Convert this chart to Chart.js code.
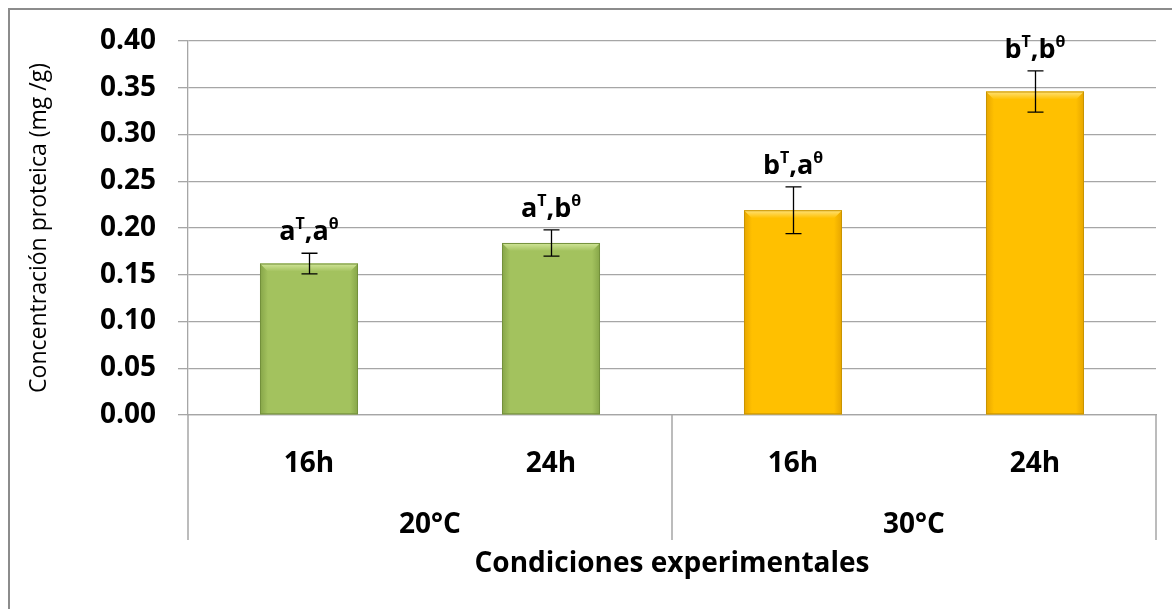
<!DOCTYPE html>
<html>
<head>
<meta charset="utf-8">
<script src="https://cdn.jsdelivr.net/npm/chart.js@4.4.0/dist/chart.umd.min.js"></script>
<style>
  html, body { margin: 0; padding: 0; background: #fff; overflow: hidden; }
  #wrap { position: relative; width: 1172px; height: 609px; }
  #frame { position: absolute; left: 8px; top: 8px; width: 1300px; height: 800px;
           border: 2px solid #8c8c8c; pointer-events: none; }
</style>
</head>
<body>
<div id="wrap">
  <canvas id="chart" width="1172" height="609"></canvas>
  <div id="frame"></div>
</div>
<script>
// data
const hours = ['16h', '24h', '16h', '24h'];
const temps = ['20°C', '30°C'];
const protein = [0.162, 0.184, 0.219, 0.346];
const proteinErr = [0.011, 0.014, 0.025, 0.022];
const letterT = ['a', 'a', 'b', 'b'];
const letterTheta = ['a', 'b', 'a', 'b'];

const FONT = "'Open Sans', sans-serif";
const green = { main: '#A3C25E', light: '#D2E69A', side: '#86A548', edge: '#73903C' };
const gold = { main: '#FFC000', light: '#FFE27A', side: '#E6A500', edge: '#C99400' };
const barStyle = i => (i < 2 ? green : gold);

// Excel-like bevel on each bar
const bevel = {
  id: 'bevel',
  afterDatasetsDraw(chart) {
    const ctx = chart.ctx;
    chart.getDatasetMeta(0).data.forEach((bar, i) => {
      const p = bar.getProps(['x', 'y', 'base', 'width'], true);
      const s = barStyle(i);
      const l = p.x - p.width / 2, r = p.x + p.width / 2, t = p.y, b = p.base, d = 8;
      ctx.save();
      let g = ctx.createLinearGradient(l, 0, l + d, 0);
      g.addColorStop(0, s.side); g.addColorStop(1, s.main);
      ctx.fillStyle = g;
      ctx.beginPath();
      ctx.moveTo(l, t); ctx.lineTo(l + d, t + d); ctx.lineTo(l + d, b); ctx.lineTo(l, b);
      ctx.closePath(); ctx.fill();
      g = ctx.createLinearGradient(r, 0, r - d, 0);
      g.addColorStop(0, s.side); g.addColorStop(1, s.main);
      ctx.fillStyle = g;
      ctx.beginPath();
      ctx.moveTo(r, t); ctx.lineTo(r - d, t + d); ctx.lineTo(r - d, b); ctx.lineTo(r, b);
      ctx.closePath(); ctx.fill();
      g = ctx.createLinearGradient(0, t, 0, t + d);
      g.addColorStop(0, s.light); g.addColorStop(1, s.main);
      ctx.fillStyle = g;
      ctx.beginPath();
      ctx.moveTo(l, t); ctx.lineTo(r, t); ctx.lineTo(r - d, t + d); ctx.lineTo(l + d, t + d);
      ctx.closePath(); ctx.fill();
      ctx.strokeStyle = s.edge;
      ctx.lineWidth = 1;
      ctx.strokeRect(l + 0.5, t + 0.5, r - l - 1, b - t - 1);
      ctx.restore();
    });
  }
};

// error bars + significance letters
const errorBars = {
  id: 'errorBars',
  afterDatasetsDraw(chart) {
    const ctx = chart.ctx, y = chart.scales.y;
    chart.getDatasetMeta(0).data.forEach((bar, i) => {
      const x = Math.round(bar.x) + 0.5;
      const hi = y.getPixelForValue(protein[i] + proteinErr[i]);
      const lo = y.getPixelForValue(protein[i] - proteinErr[i]);
      ctx.save();
      ctx.strokeStyle = '#000';
      ctx.lineWidth = 1.3;
      ctx.beginPath();
      ctx.moveTo(x, hi); ctx.lineTo(x, lo);
      ctx.moveTo(x - 8, hi); ctx.lineTo(x + 8, hi);
      ctx.moveTo(x - 8, lo); ctx.lineTo(x + 8, lo);
      ctx.stroke();

      // label like a^T,b^θ
      const parts = [
        [letterT[i], false], ['T', true], [',', false], [letterTheta[i], false], ['θ', true]
      ];
      const big = 'bold 27px ' + FONT, small = 'bold 16px ' + FONT;
      let w = 0;
      parts.forEach(([txt, sup]) => { ctx.font = sup ? small : big; w += ctx.measureText(txt).width; });
      let cx = bar.x - w / 2;
      const base = hi - 13;
      ctx.fillStyle = '#000';
      ctx.textBaseline = 'alphabetic';
      ctx.textAlign = 'left';
      parts.forEach(([txt, sup]) => {
        ctx.font = sup ? small : big;
        ctx.fillText(txt, cx, sup ? base - 11 : base);
        cx += ctx.measureText(txt).width;
      });
      ctx.restore();
    });
  }
};

// separators of the two temperature groups below the axis
const groupLines = {
  id: 'groupLines',
  afterDraw(chart) {
    const ctx = chart.ctx, x = chart.scales.x, x2 = chart.scales.x2;
    const mid = (x.getPixelForValue(1) + x.getPixelForValue(2)) / 2;
    const top = chart.chartArea.bottom, bottom = x2.top + 45;
    ctx.save();
    ctx.strokeStyle = '#A6A6A6';
    ctx.lineWidth = 1.5;
    ctx.beginPath();
    [x.left, mid, x.right].forEach(px => {
      ctx.moveTo(Math.round(px), top); ctx.lineTo(Math.round(px), bottom);
    });
    ctx.stroke();
    ctx.restore();
  }
};

new Chart(document.getElementById('chart').getContext('2d'), {
  type: 'bar',
  data: {
    labels: hours,
    datasets: [{
      data: protein,
      backgroundColor: protein.map((v, i) => barStyle(i).main),
      borderWidth: 0,
      categoryPercentage: 1,
      barPercentage: 0.405
    }]
  },
  options: {
    responsive: false,
    animation: false,
    devicePixelRatio: 1,
    layout: { padding: { left: 0, right: 16, top: 41, bottom: 0 } },
    plugins: { legend: { display: false }, tooltip: { enabled: false } },
    scales: {
      y: {
        min: 0, max: 0.4,
        afterFit(scale) { scale.width = 188; },
        ticks: {
          stepSize: 0.05,
          callback: v => v.toFixed(2),
          font: { family: FONT, size: 28, weight: 'bold' },
          color: '#000',
          padding: 22
        },
        grid: { color: '#A6A6A6', lineWidth: 1.3, tickLength: 10 },
        border: { color: '#A6A6A6', width: 1.3 },
        title: {
          display: true,
          text: 'Concentración proteica (mg /g)',
          font: { family: FONT, size: 23 },
          color: '#000',
          padding: { top: 26, bottom: 0 }
        }
      },
      x: {
        afterFit(scale) { scale.height = 80; },
        grid: { display: false },
        border: { color: '#A6A6A6', width: 1.3 },
        ticks: {
          font: { family: FONT, size: 28, weight: 'bold' },
          color: '#000',
          padding: 24
        }
      },
      x2: {
        type: 'category',
        labels: temps,
        position: 'bottom',
        offset: true,
        afterFit(scale) { scale.height = 114; },
        grid: { display: false },
        border: { display: false },
        ticks: {
          font: { family: FONT, size: 28, weight: 'bold' },
          color: '#000',
          padding: 5
        },
        title: {
          display: true,
          text: 'Condiciones experimentales',
          font: { family: FONT, size: 28, weight: 'bold' },
          color: '#000',
          padding: { top: 0, bottom: 28 }
        }
      }
    }
  },
  plugins: [bevel, errorBars, groupLines]
});
</script>
</body>
</html>
